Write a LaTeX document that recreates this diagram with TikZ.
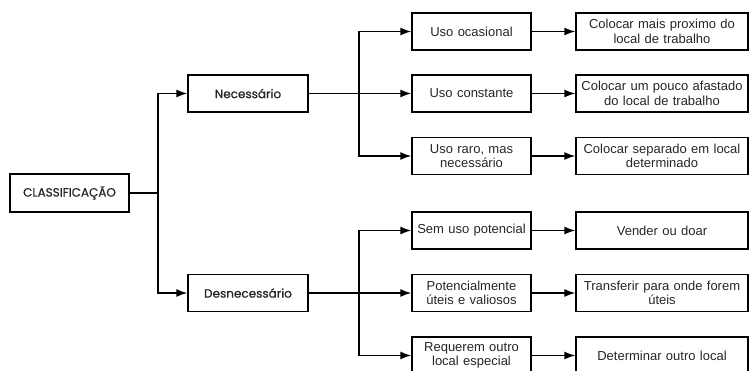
\documentclass[tikz,border=0pt]{standalone}
\usepackage{fontspec}
\setmainfont{Liberation Sans}
\newfontfamily\poppins{Poppins}[FakeBold=0.6]
\usetikzlibrary{positioning}
\usetikzlibrary{arrows.meta}

\tikzset{
  box/.style={draw, line width=1.4pt, rectangle, align=center, text=black!85,
    inner sep=1pt, font=\fontsize{13}{14.5}\selectfont},
  midbox/.style={box, minimum width=119pt, minimum height=37pt, text width=115pt},
  endbox/.style={box, minimum width=172pt, minimum height=37pt, text width=168pt},
  mainbox/.style={box, minimum width=120pt, minimum height=37pt,
    font=\poppins\fontsize{12}{14}\selectfont},
  arr/.style={-{Latex[length=11pt,width=8pt]}, line width=1.4pt},
  ln/.style={line width=1.4pt}
}

\begin{document}
\begin{tikzpicture}[x=1pt, y=-1pt]
		\useasboundingbox (0,0) rectangle (749,371);
		% left
		\node (cls) [mainbox, minimum width=119pt, minimum height=38pt] at (69.5,193) {CLASSIFICAÇÃO};
		\node (nec) [mainbox] at (248,93.5) {Necessário};
		\node (des) [mainbox] at (248,293) {Desnecessário};
		% middle column
		\node (uoc) [midbox] at (471.5,31.5) {Uso ocasional};
		\node (uco) [midbox] at (471.5,93.5) {Uso constante};
		\node (ura) [midbox] at (471.5,156) {Uso raro, mas\\necessário};
		\node (sem) [midbox] at (471.5,230.5) {Sem uso potencial};
		\node (pot) [midbox] at (471.5,293) {Potencialmente\\úteis e valiosos};
		\node (req) [midbox] at (471.5,355.5) {Requerem outro\\local especial};
		% right column
		\node (cpr) [endbox] at (662,31.5) {Colocar mais proximo do\\local de trabalho};
		\node (caf) [endbox] at (662,93.5) {Colocar um pouco afastado\\do local de trabalho};
		\node (csp) [endbox] at (662,156) {Colocar separado em local\\determinado};
		\node (vnd) [endbox] at (662,230.5) {Vender ou doar};
		\node (trf) [endbox] at (662,293) {Transferir para onde forem\\úteis};
		\node (det) [endbox] at (662,355.5) {Determinar outro local};
		% junctions
		\coordinate (j0) at (158,193);
		\coordinate (j1) at (359,93.5);
		\coordinate (j2) at (359,293);
		% connectors
		\draw[ln] (cls.east) -- (j0);
		\draw[arr] (j0) |- (nec.west);
		\draw[arr] (j0) |- (des.west);
		\draw[arr] (nec.east) -- (uco.west);
		\draw[arr] (j1) |- (uoc.west);
		\draw[arr] (j1) |- (ura.west);
		\draw[arr] (des.east) -- (pot.west);
		\draw[arr] (j2) |- (sem.west);
		\draw[arr] (j2) |- (req.west);
		\foreach \a/\b in {uoc/cpr, uco/caf, ura/csp, sem/vnd, pot/trf, req/det}
			\draw[arr] (\a.east) -- (\b.west);
	\end{tikzpicture}
\end{document}
